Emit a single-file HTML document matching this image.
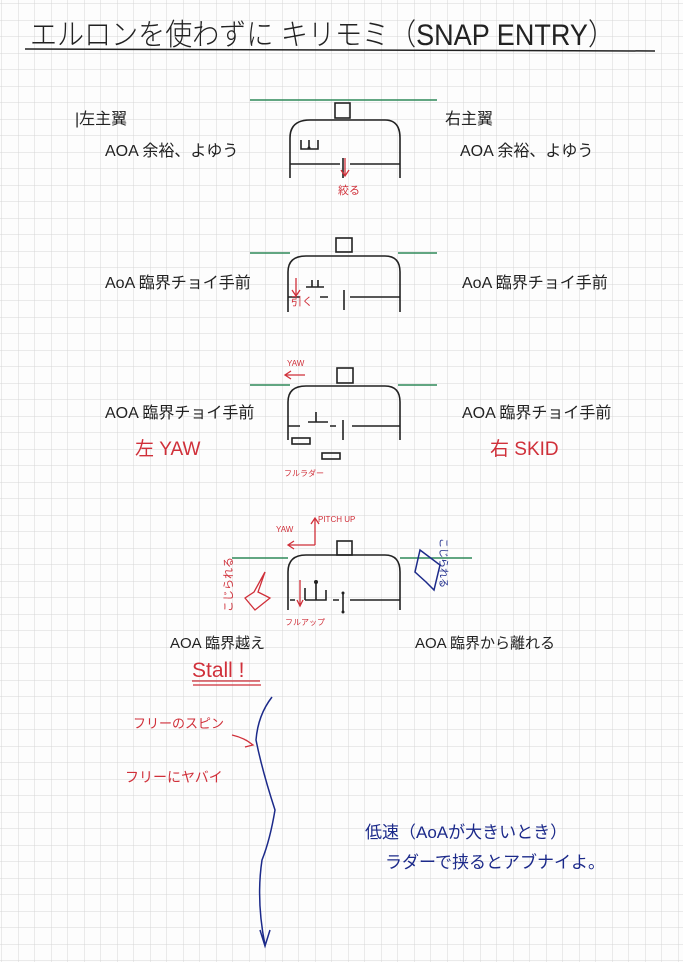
<!DOCTYPE html>
<html><head><meta charset="utf-8"><style>
html,body{margin:0;padding:0;background:#fff}
svg{display:block}
text{font-family:"Liberation Sans","Noto Sans CJK JP",sans-serif}
</style></head><body>
<svg width="683" height="962" viewBox="0 0 683 962" xmlns="http://www.w3.org/2000/svg">
<defs>
<pattern id="g" width="16.5" height="16.5" patternUnits="userSpaceOnUse" x="2" y="4">
<path d="M16.5 0V16.5M0 16.5H16.5" stroke="#d6d6d6" stroke-width="1" fill="none"/>
</pattern>
</defs>
<rect width="683" height="962" fill="#fdfdfd"/>
<rect width="683" height="962" fill="url(#g)"/>

<text x="30" y="45" font-size="30" fill="#222" font-weight="300" textLength="585" lengthAdjust="spacingAndGlyphs">エルロンを使わずに キリモミ（SNAP ENTRY）</text>
<line x1="25" y1="49" x2="655" y2="51" stroke="#222" stroke-width="1.5"/>

<g fill="none" stroke="#222" stroke-width="1.6">
<!-- plane 1 -->
<rect x="335" y="103" width="15" height="15"/>
<path d="M290 178V138Q290 120 310 120H385Q400 120 400 138V178"/>
<path d="M290 164H340M350 164H400"/>
<path d="M301 140V149H318V140M309 140V148"/>
<line x1="343" y1="158" x2="343" y2="178"/>
<!-- plane 2 -->
<rect x="336" y="238" width="16" height="14"/>
<path d="M288 312V272Q288 256 306 256H385Q400 256 400 272V312"/>
<path d="M288 297H300M320 297H328M350 297H400"/>
<path d="M306 287H324M312 287V280M318 287V280"/>
<line x1="344" y1="290" x2="344" y2="310"/>
<!-- plane 3 -->
<rect x="337" y="368" width="16" height="15"/>
<path d="M288 440V402Q288 386 306 386H385Q400 386 400 402V440"/>
<path d="M288 426H300M330 426H336M352 426H400"/>
<path d="M308 422H328M316 422V412"/>
<line x1="343" y1="420" x2="343" y2="440"/>
<rect x="292" y="438" width="18" height="6"/>
<rect x="322" y="453" width="18" height="6"/>
<!-- plane 4 -->
<rect x="337" y="541" width="15" height="14"/>
<path d="M288 610V572Q288 555 306 555H385Q400 555 400 572V610"/>
<path d="M290 600H295M333 600H339M350 600H400"/>
<path d="M305 600V588M305 600H326V590M316 600V583"/>
<line x1="343" y1="593" x2="343" y2="612"/>
</g>
<g fill="#222"><circle cx="309" cy="148" r="1.5"/><circle cx="316" cy="582" r="2"/><circle cx="343" cy="593" r="1.5"/><circle cx="343" cy="612" r="1.5"/></g>

<g stroke="#2e8a5a" stroke-width="1.5">
<line x1="250" y1="100" x2="437" y2="100"/>
<line x1="250" y1="253" x2="290" y2="253"/><line x1="398" y1="253" x2="437" y2="253"/>
<line x1="250" y1="385" x2="290" y2="385"/><line x1="398" y1="385" x2="437" y2="385"/>
<line x1="232" y1="558" x2="288" y2="558"/><line x1="400" y1="558" x2="472" y2="558"/>
</g>

<g fill="#222" font-size="16">
<text x="75" y="124">|左主翼</text>
<text x="105" y="156">AOA 余裕、よゆう</text>
<text x="445" y="124">右主翼</text>
<text x="460" y="156">AOA 余裕、よゆう</text>
<text x="105" y="288">AoA 臨界チョイ手前</text>
<text x="462" y="288">AoA 臨界チョイ手前</text>
<text x="105" y="418">AOA 臨界チョイ手前</text>
<text x="462" y="418">AOA 臨界チョイ手前</text>
<text x="170" y="648" font-size="15">AOA 臨界越え</text>
<text x="415" y="648" font-size="15">AOA 臨界から離れる</text>
</g>

<g fill="#d0303a" stroke="none">
<text x="338" y="194" font-size="11">絞る</text>
<text x="291" y="305" font-size="11">引く</text>
<text x="135" y="455" font-size="19">左 YAW</text>
<text x="490" y="455" font-size="19">右 SKID</text>
<text x="287" y="366" font-size="8">YAW</text>
<text x="284" y="476" font-size="8">フルラダー</text>
<text x="276" y="532" font-size="8">YAW</text>
<text x="318" y="522" font-size="8">PITCH UP</text>
<text x="285" y="625" font-size="8">フルアップ</text>
<text x="192" y="677" font-size="21">Stall !</text>
<text x="133" y="728" font-size="13">フリーのスピン</text>
<text x="125" y="782" font-size="14">フリーにヤバイ</text>
<text x="0" y="0" font-size="11" transform="translate(232 612) rotate(-90)">こじられる</text>
</g>
<g stroke="#d0303a" stroke-width="1.3" fill="none">
<path d="M305 375H285M291 371L285 375L291 379"/>
<path d="M345 158V176M341 170L345 176L349 170"/>
<path d="M296 278V296M292 290L296 296L300 290"/>
<path d="M315 545V518M311 524L315 518L319 524M315 545H288M294 541L288 545L294 549"/>
<path d="M300 580V606M297 600L300 606L303 600"/>
<path d="M192 681H260M193 685H261"/>
<path d="M232 735Q245 738 253 745M246 740L253 745L245 747"/>
<path d="M265 572L258 592L270 598L255 610L245 598L254 592Z"/>
</g>

<g stroke="#1c2a8a" stroke-width="1.5" fill="none">
<path d="M272 697Q258 715 256 740Q262 770 275 810Q270 840 262 860Q256 900 265 945M260 930L265 946L270 930"/>
<path d="M420 550L440 565L434 590L426 582L415 572Z"/>
</g>
<g fill="#1c2a8a">
<text x="0" y="0" font-size="10" transform="translate(440 538) rotate(90)">こじられる</text>
<text x="365" y="838" font-size="17">低速（AoAが大きいとき）</text>
<text x="385" y="868" font-size="17">ラダーで挟るとアブナイよ。</text>
</g>
</svg>
</body></html>
